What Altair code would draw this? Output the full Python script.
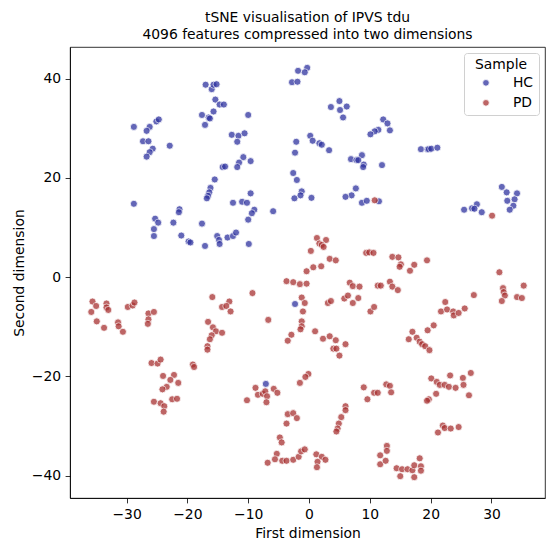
import altair as alt
import pandas as pd

# tSNE embedding, healthy controls (HC)
hc_xy = [
    (-17.0, 38.8), (-16.0, 37.9), (-15.7, 38.8), (-15.2, 38.9), (-15.4, 35.8), (-14.7, 34.8),
    (-14.0, 34.8), (-15.7, 33.4), (-17.6, 32.7), (-16.5, 32.2), (-16.3, 32.0), (-17.1, 30.7),
    (-28.8, 30.3), (-26.2, 30.3), (-26.7, 29.5), (-25.1, 31.4), (-24.7, 31.8), (-27.3, 27.4),
    (-26.4, 27.4), (-22.9, 26.5), (-25.7, 25.9), (-26.2, 25.2), (-26.7, 24.3),
    (-14.2, 22.2), (-13.8, 22.3), (-15.5, 19.7), (-16.2, 18.0), (-16.4, 17.1), (-16.6, 16.4),
    (-16.8, 15.9), (-28.8, 14.8), (-21.3, 13.7), (-21.4, 13.1), (-25.3, 11.8), (-24.8, 11.0),
    (-25.5, 9.7), (-25.5, 8.3), (-22.3, 11.0), (-17.6, 10.8), (-21.0, 8.4), (-19.8, 7.2),
    (-19.5, 7.0), (-17.1, 6.3), (-15.1, 8.3), (-14.8, 7.5), (-14.7, 6.7), (-13.4, 8.0),
    (-1.8, 41.6), (-0.3, 42.2), (-0.7, 41.3), (-2.8, 39.3), (-1.9, 39.4), (-10.0, 32.7),
    (5.0, 35.5), (3.6, 34.3), (5.1, 33.7), (6.2, 34.4), (5.6, 32.2),
    (12.2, 31.8), (11.4, 29.7), (10.8, 29.4), (10.1, 28.8), (12.9, 31.0), (13.3, 29.6),
    (-12.7, 28.7), (-11.6, 28.5), (-10.6, 29.0), (-11.8, 27.3),
    (-2.1, 27.3), (-2.3, 25.1), (0.2, 28.5), (0.6, 27.5), (1.7, 27.0), (2.1, 26.7), (3.3, 25.6),
    (-10.8, 24.2), (-11.5, 23.1), (-11.8, 22.2), (-9.6, 23.4),
    (6.9, 23.8), (7.8, 23.6), (8.7, 24.6), (8.1, 23.6), (9.0, 22.7), (8.9, 22.2), (12.0, 22.6),
    (-2.6, 21.0), (-2.0, 19.6), (-1.2, 17.3), (-1.4, 16.5), (-2.4, 15.9), (0.4, 16.0),
    (-9.6, 16.9), (-12.5, 15.0), (-11.0, 15.2), (-10.2, 15.0), (-9.0, 13.6), (-9.4, 12.9),
    (-10.0, 11.6), (-5.9, 13.3),
    (7.7, 17.9), (7.0, 16.5), (6.0, 16.2), (8.7, 15.0), (9.5, 15.4), (11.5, 15.3),
    (-12.5, 8.3), (-12.0, 9.0), (-9.9, 6.7),
    (18.4, 25.8), (19.5, 25.8), (19.7, 25.8), (20.1, 25.9), (21.1, 26.1),
    (31.7, 18.2), (32.5, 17.1), (34.2, 16.9), (32.6, 15.4), (33.8, 15.7), (33.6, 14.4), (33.0, 13.6),
    (25.5, 13.6), (26.8, 13.9), (27.6, 14.7), (27.2, 13.8), (28.4, 13.1),
    (-2.3, -5.4), (-7.1, -21.5),
]

# tSNE embedding, Parkinson's disease (PD)
pd_xy = [
    (10.8, 15.5), (1.3, 7.9), (2.8, 7.5), (1.7, 6.8), (2.1, 6.5), (2.4, 6.1), (0.3, 5.3),
    (3.4, 3.7), (4.4, 3.4), (2.0, 2.2), (0.7, 2.0), (-0.4, 1.2), (9.4, 4.9), (9.9, 5.0), (10.6, 4.9),
    (30.1, 12.4), (13.7, 4.1), (14.7, 4.0), (15.1, 2.6), (14.9, 2.1), (17.3, 2.5), (16.6, 1.3),
    (19.4, 3.4), (31.3, 1.0),
    (-35.6, -4.9), (-35.0, -5.8), (-35.8, -7.0), (-33.3, -5.3), (-33.3, -6.1), (-33.0, -6.6),
    (-34.9, -8.9), (-33.7, -10.2), (-31.4, -9.1), (-31.3, -9.9), (-30.6, -11.0),
    (-29.8, -6.0), (-29.0, -5.7), (-28.7, -5.1), (-26.4, -7.3), (-25.5, -7.0), (-26.4, -8.5),
    (-26.5, -9.4), (-15.9, -4.0), (-14.3, -6.0), (-16.6, -9.0), (-15.8, -10.1), (-15.3, -10.9),
    (-14.3, -11.2), (-16.0, -11.7), (-16.3, -12.5), (-16.7, -13.9), (-16.7, -14.6),
    (-25.9, -17.3), (-24.9, -17.4), (-24.4, -16.6), (-24.0, -19.9), (-22.2, -19.7), (-22.8, -20.7),
    (-21.5, -21.3), (-23.4, -22.1), (-24.1, -22.6), (-19.1, -17.6), (-18.9, -18.1),
    (-25.5, -25.1), (-24.4, -25.4), (-23.8, -26.0), (-23.9, -27.1), (-22.5, -24.6), (-21.7, -24.5),
    (-3.7, -0.8), (-2.6, -1.0), (-1.5, -1.4), (-0.4, -1.3), (6.7, -1.1), (7.2, -1.8), (8.3, -1.9),
    (11.3, -1.7), (11.8, -1.7), (-9.3, -3.2), (-13.1, -4.9), (-13.6, -5.8), (-12.9, -6.9),
    (-1.2, -4.1), (-0.7, -5.2), (-1.0, -6.9), (5.8, -4.3), (6.4, -3.7), (8.1, -4.2), (7.2, -5.2),
    (3.1, -5.2), (3.6, -4.8), (10.1, -6.9), (10.7, -6.0), (-6.7, -8.6), (-1.2, -8.9), (-1.2, -9.9),
    (-1.4, -10.5), (-2.9, -11.6), (-3.5, -12.8), (1.0, -10.9), (2.3, -12.4), (3.4, -11.9),
    (4.4, -12.7), (4.0, -14.4), (4.5, -14.4), (5.0, -15.8), (6.0, -13.5),
    (-0.1, -19.5), (-0.6, -20.1), (-1.5, -21.3), (-8.8, -22.3), (-8.4, -23.7), (-7.6, -23.5),
    (-7.2, -23.0), (-6.9, -24.0), (-7.0, -25.2), (-5.8, -22.5), (-5.2, -23.3), (-10.2, -24.8),
    (9.0, -22.2), (9.6, -24.6), (10.7, -23.3), (11.3, -23.3),
    (-3.5, -27.6), (-2.6, -27.4), (-2.0, -28.4), (-3.7, -29.5),
    (6.0, -26.0), (6.0, -26.8), (5.3, -28.2), (4.9, -29.5), (4.7, -30.5), (4.5, -31.1),
    (-4.8, -32.3), (-4.5, -33.3), (-5.3, -35.6), (-5.6, -36.7), (-6.8, -37.4), (-4.4, -37.0),
    (-3.7, -37.0), (-2.6, -36.8), (-1.7, -36.2), (-1.3, -35.1), (-0.7, -34.7),
    (1.2, -35.7), (2.1, -36.2), (1.4, -37.2), (1.3, -38.3), (2.7, -36.8), (11.7, -35.9), (11.7, -37.7),
    (13.3, -0.9), (13.7, -1.9), (14.6, -2.6), (35.3, -1.7), (31.9, -2.2), (32.0, -3.0), (32.2, -3.7),
    (31.7, -4.8), (34.2, -4.0), (35.0, -4.2), (27.1, -3.6), (22.4, -5.0), (21.7, -6.9), (22.7, -6.5),
    (23.7, -6.9), (23.8, -7.7), (24.6, -7.2), (25.6, -6.3),
    (17.0, -11.0), (16.4, -12.5), (17.7, -12.2), (18.2, -13.0), (18.6, -13.5), (19.1, -13.9),
    (19.8, -14.7), (19.5, -10.7), (20.5, -9.7),
    (12.7, -21.6), (13.3, -21.9), (13.5, -23.2), (20.1, -20.4), (21.0, -21.1), (21.5, -21.7),
    (22.3, -21.7), (23.0, -22.1), (24.1, -22.3), (23.2, -19.8), (25.3, -20.3), (26.6, -19.3),
    (25.4, -21.7), (26.3, -23.8), (20.9, -23.5), (19.7, -24.6), (19.4, -24.9),
    (22.0, -29.9), (22.3, -30.4), (23.3, -30.5), (24.6, -30.2), (21.2, -31.3),
    (12.8, -34.0), (12.8, -35.0), (12.6, -37.0), (14.4, -38.5), (15.3, -38.7), (16.2, -38.7),
    (17.0, -38.9), (17.3, -37.9), (18.2, -36.5), (18.4, -38.1), (18.4, -39.0), (15.0, -40.1),
    (17.3, -40.3),
]

groups = ["HC", "PD"]
group_colors = ["#3034a0", "#a83232"]
x_ticks = [-30, -20, -10, 0, 10, 20, 30]
y_ticks = [-40, -20, 0, 20, 40]

rows = [{"x": x, "y": y, "Sample": "HC"} for x, y in hc_xy]
rows += [{"x": x, "y": y, "Sample": "PD"} for x, y in pd_xy]
df = pd.DataFrame(rows)

FONT = "DejaVu Sans"
FS = 13.9

chart = (
    alt.Chart(df)
    .mark_circle(size=50, opacity=0.75, stroke="white", strokeWidth=0.8)
    .encode(
        x=alt.X(
            "x:Q",
            title="First dimension",
            scale=alt.Scale(domain=[-39.3, 38.8], nice=False, zero=False),
            axis=alt.Axis(values=x_ticks),
        ),
        y=alt.Y(
            "y:Q",
            title="Second dimension",
            scale=alt.Scale(domain=[-44.5, 46.4], nice=False, zero=False),
            axis=alt.Axis(values=y_ticks),
        ),
        color=alt.Color(
            "Sample:N",
            scale=alt.Scale(domain=groups, range=group_colors),
            legend=alt.Legend(
                title="Sample",
                orient="top-right",
                offset=6,
                fillColor="white",
                strokeColor="#d0d0d0",
                cornerRadius=3,
                padding=5,
                titleFont=FONT,
                titleFontSize=FS,
                titleFontWeight="normal",
                titleColor="black",
                titleAnchor="middle",
                titlePadding=4,
                labelFont=FONT,
                labelFontSize=FS,
                labelColor="black",
                symbolType="circle",
                symbolSize=44,
                symbolOpacity=0.75,
                symbolStrokeColor="white",
                symbolStrokeWidth=0.8,
                symbolOffset=10,
                labelOffset=20,
                rowPadding=5,
            ),
        ),
    )
    .properties(
        width=475,
        height=451,
        title=alt.TitleParams(
            ["tSNE visualisation of IPVS tdu", "4096 features compressed into two dimensions"],
            font=FONT,
            fontSize=FS,
            fontWeight="normal",
            color="black",
            anchor="middle",
            offset=5,
            lineHeight=17,
        ),
        autosize=alt.AutoSizeParams(type="none"),
        padding={"left": 70, "top": 47, "right": 1, "bottom": 44},
    )
    .configure_view(stroke="black", strokeWidth=0.8)
    .configure_axis(
        grid=False,
        domainColor="black",
        domainWidth=0.8,
        tickColor="black",
        tickWidth=0.8,
        tickSize=4.9,
        labelPadding=4.5,
        labelColor="black",
        titleColor="black",
        labelFont=FONT,
        titleFont=FONT,
        labelFontSize=FS,
        titleFontSize=FS,
        titleFontWeight="normal",
        titlePadding=5,
    )
)

chart.save("out.html", embed_options={"renderer": "svg", "actions": False})
